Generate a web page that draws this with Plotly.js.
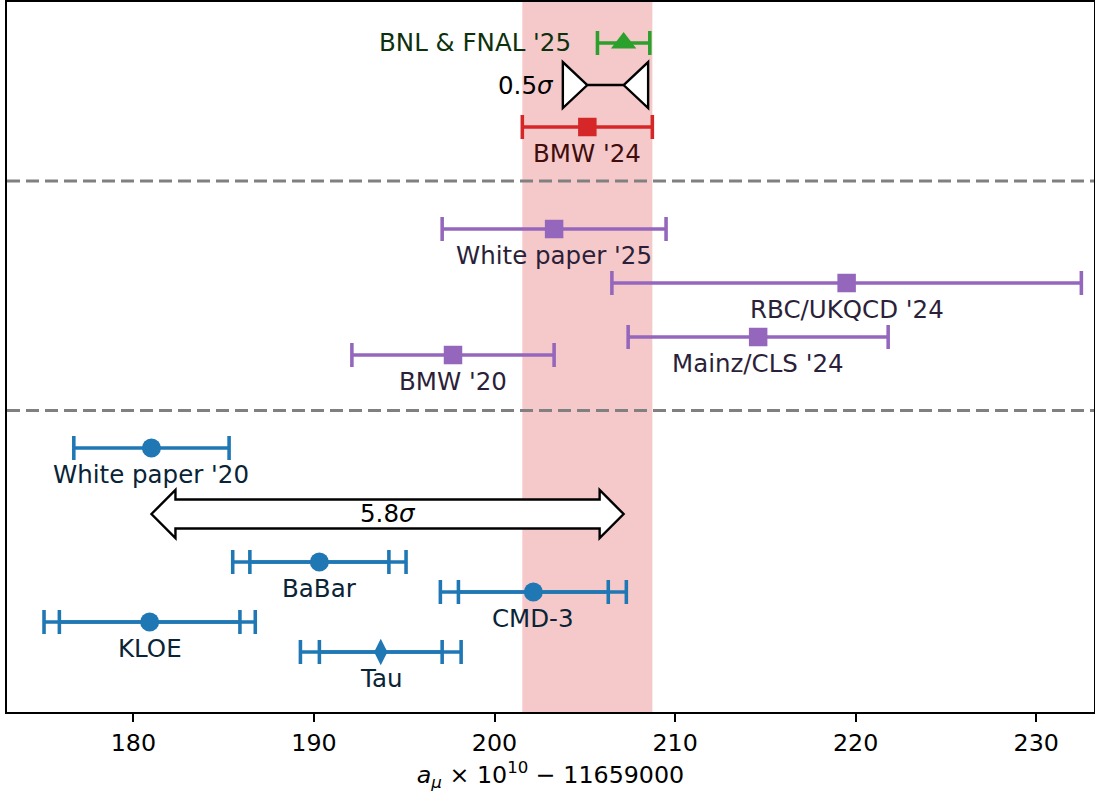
<!DOCTYPE html>
<html>
<head>
<meta charset="utf-8">
<script src="https://cdn.plot.ly/plotly-3.0.1.min.js"></script>
<style>html,body{margin:0;padding:0;background:#fff;}#chart{width:1095px;height:798px;}</style>
</head>
<body>
<div id="chart"></div>
<script>
// ---------------- data (a_mu x 1e10 - 11659000) ----------------
const expName = "BNL & FNAL '25";
const expVal = [207.15];
const expErr = [1.45];

const bmw24Name = "BMW '24";
const bmw24Val = [205.14];
const bmw24Err = [3.6];

const latticeNames = ["White paper '25", "RBC/UKQCD '24", "Mainz/CLS '24", "BMW '20"];
const latticeVals = [203.3, 219.5, 214.6, 197.7];
const latticeErrs = [6.2, 13.0, 7.2, 5.6];

const wp20Name = "White paper '20";
const wp20Val = [181.0];
const wp20Err = [4.3];

const dispNames = ["BaBar", "CMD-3", "KLOE", "Tau"];
const dispVals = [190.3, 202.15, 180.9, 193.7];
const dispErrInner = [3.85, 4.15, 5.0, 3.4];
const dispErrOuter = [4.8, 5.15, 5.85, 4.45];

const sigmaSmall = "0.5<i>σ</i>";
const sigmaLarge = "5.8<i>σ</i>";

const xTicks = [180, 190, 200, 210, 220, 230];

// ---------------- layout rows (vertical placement) ----------------
const rowExp = 22.3, rowSmallArrow = 20.9, rowBmw24 = 19.5, rowDiv1 = 17.7;
const latticeRows = [16.1, 14.3, 12.5, 11.9];
const rowDiv2 = 10.05, rowWp20 = 8.8, rowBigArrow = 6.6;
const dispRows = [5, 4, 3, 2];

// ---------------- styles ----------------
const FONT = "DejaVu Sans, Liberation Sans, sans-serif";
const FS = 23.75;
const FSL = 24.5;
const cBlue = "#1f77b4", cPurple = "#9467bd", cRed = "#d62728", cGreen = "#2ca02c";
const tBlue = "rgb(9,36,54)", tPurple = "rgb(44,31,57)", tRed = "rgb(64,12,12)", tGreen = "rgb(13,48,13)";
const W = 1095, H = 798, ML = 7, MR = 1, MT = 2, MB = 86;
const X_RANGE = [173.0, 233.2];
const Y_RANGE = [0, 23.667];
const pxPerX = (W - ML - MR) / (X_RANGE[1] - X_RANGE[0]);
const pxPerY = (H - MT - MB) / (Y_RANGE[1] - Y_RANGE[0]);
const LW = 3.56, CAP = 12;

function errTrace(x, y, err, color, symbol, size, showMarker) {
  return {
    type: "scatter", mode: "markers", x: x, y: y,
    marker: {color: color, symbol: symbol, size: size, opacity: showMarker ? 1 : 0},
    error_x: {type: "data", array: err, symmetric: true, color: color, thickness: LW, width: CAP},
    hoverinfo: "skip", showlegend: false
  };
}

const traces = [];
traces.push(errTrace(expVal, [rowExp], expErr, cGreen, "triangle-up", 22, true));
traces.push(errTrace(bmw24Val, [rowBmw24], bmw24Err, cRed, "square", 18.5, true));
traces.push(errTrace(latticeVals, latticeRows, latticeErrs, cPurple, "square", 18.5, true));
traces.push(errTrace(wp20Val, [rowWp20], wp20Err, cBlue, "circle", 19, true));
traces.push(errTrace(dispVals, dispRows, dispErrOuter, cBlue, "circle", 19, false));
traces.push(errTrace(dispVals, dispRows, dispErrInner, cBlue,
  dispNames.map(n => n === "Tau" ? "diamond-tall" : "circle"), 19, true));

// ---------------- annotations ----------------
const ann = [];
function below(x, y, text, color) {
  ann.push({x: x, y: y, text: text, showarrow: false, xanchor: "center", yanchor: "middle",
    yshift: -26, font: {family: FONT, size: FSL, color: color}});
}
below(bmw24Val[0], rowBmw24, bmw24Name, tRed);
latticeNames.forEach((n, i) => below(latticeVals[i], latticeRows[i], n, tPurple));
below(wp20Val[0], rowWp20, wp20Name, tBlue);
dispNames.forEach((n, i) => below(dispVals[i], dispRows[i], n, tBlue));

ann.push({x: expVal[0] - expErr[0], y: rowExp, text: expName, showarrow: false,
  xanchor: "right", yanchor: "middle", xshift: -24, yshift: 1,
  font: {family: FONT, size: FSL, color: tGreen}});

// small (0.5 sigma) arrow geometry
const hlS = 24.5 / pxPerX, hhS = 23 / pxPerY;
const xa = bmw24Val[0], xb = expVal[0];
ann.push({x: xa - hlS, y: rowSmallArrow, text: sigmaSmall, showarrow: false,
  xanchor: "right", yanchor: "middle", xshift: -7,
  font: {family: FONT, size: FSL, color: "black"}});

// big (5.8 sigma) arrow
const x0 = wp20Val[0], x1 = expVal[0];
const hlB = 24 / pxPerX, hhB = 24 / pxPerY, shB = 14.5 / pxPerY;
ann.push({x: (x0 + x1) / 2, y: rowBigArrow, text: sigmaLarge, showarrow: false,
  xanchor: "center", yanchor: "middle", yshift: 1,
  font: {family: FONT, size: FSL, color: "black"}});

// ---------------- shapes ----------------
const shapes = [];
shapes.push({type: "rect", xref: "x", yref: "paper", x0: bmw24Val[0] - bmw24Err[0], x1: bmw24Val[0] + bmw24Err[0],
  y0: 0, y1: 1, fillcolor: "rgba(214,39,40,0.25)", line: {width: 0}, layer: "below"});
[rowDiv1, rowDiv2].forEach(r => shapes.push({type: "line", xref: "paper", yref: "y", x0: 0, x1: 1, y0: r, y1: r,
  line: {color: "#808080", width: 3, dash: "13px,6px"}, layer: "below"}));

const yc = rowBigArrow;
const P = (x, y) => x + "," + y;
shapes.push({type: "path", xref: "x", yref: "y", layer: "above",
  path: "M" + P(x0, yc) + " L" + P(x0 + hlB, yc + hhB) + " L" + P(x0 + hlB, yc + shB) +
        " L" + P(x1 - hlB, yc + shB) + " L" + P(x1 - hlB, yc + hhB) + " L" + P(x1, yc) +
        " L" + P(x1 - hlB, yc - hhB) + " L" + P(x1 - hlB, yc - shB) + " L" + P(x0 + hlB, yc - shB) +
        " L" + P(x0 + hlB, yc - hhB) + " Z",
  fillcolor: "white", line: {color: "black", width: 2.4}});

const ys = rowSmallArrow;
shapes.push({type: "line", xref: "x", yref: "y", x0: xa, x1: xb, y0: ys, y1: ys, layer: "above",
  line: {color: "black", width: 2.4}});
shapes.push({type: "path", xref: "x", yref: "y", layer: "above",
  path: "M" + P(xa, ys) + " L" + P(xa - hlS, ys + hhS) + " L" + P(xa - hlS, ys - hhS) + " Z",
  fillcolor: "white", line: {color: "black", width: 2.4}});
shapes.push({type: "path", xref: "x", yref: "y", layer: "above",
  path: "M" + P(xb, ys) + " L" + P(xb + hlS, ys + hhS) + " L" + P(xb + hlS, ys - hhS) + " Z",
  fillcolor: "white", line: {color: "black", width: 2.4}});

const layout = {
  width: W, height: H,
  margin: {l: ML, r: MR, t: MT, b: MB, pad: 0},
  paper_bgcolor: "white", plot_bgcolor: "white",
  font: {family: FONT, size: FS, color: "black"},
  showlegend: false,
  xaxis: {
    range: X_RANGE, autorange: false, tickvals: xTicks, ticktext: xTicks.map(String),
    ticks: "outside", ticklen: 8, tickwidth: 2, tickcolor: "black",
    showline: true, mirror: true, linecolor: "black", linewidth: 2,
    showgrid: false, zeroline: false,
    tickfont: {family: FONT, size: FS, color: "black"},
    title: {text: "<i>a</i><sub><i>μ</i></sub> × 10<sup>10</sup> − 11659000",
      font: {family: FONT, size: FS, color: "black"}, standoff: 11}
  },
  yaxis: {
    range: Y_RANGE, autorange: false, showticklabels: false, ticks: "",
    showline: true, mirror: true, linecolor: "black", linewidth: 2,
    showgrid: false, zeroline: false
  },
  shapes: shapes,
  annotations: ann
};

Plotly.newPlot("chart", traces, layout, {staticPlot: true, displayModeBar: false});
</script>
</body>
</html>
